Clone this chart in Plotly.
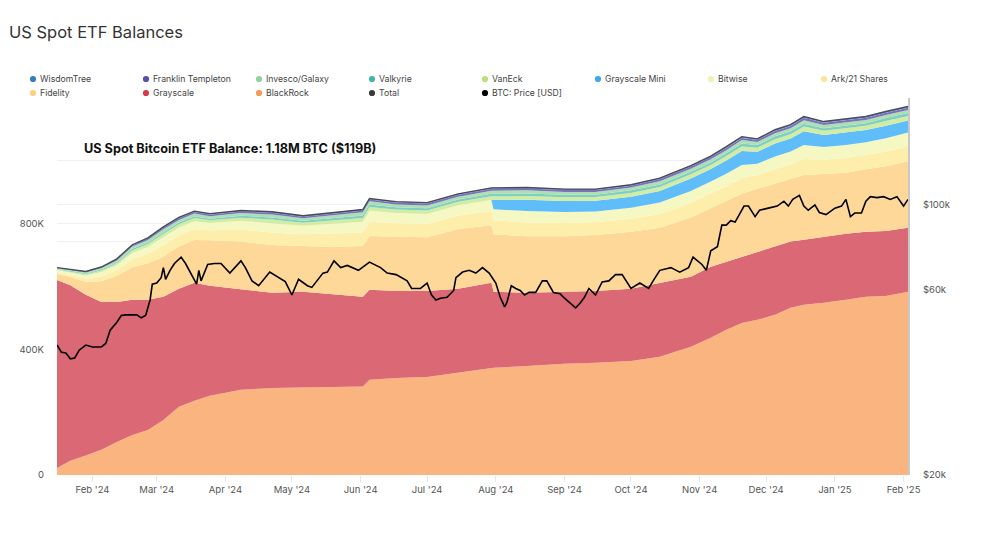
import plotly.graph_objects as go
import numpy as np

# ---------------- data (thousand BTC) ----------------
dates = ["2024-01-16","2024-01-22","2024-01-29","2024-02-05","2024-02-12","2024-02-19","2024-02-26",
         "2024-03-04","2024-03-11","2024-03-18","2024-03-25","2024-04-08","2024-04-22","2024-05-06",
         "2024-05-20","2024-06-02","2024-06-05","2024-06-17","2024-07-01","2024-07-15","2024-07-30",
         "2024-07-31","2024-08-15","2024-09-01","2024-09-15","2024-10-01","2024-10-14","2024-10-28",
         "2024-11-06","2024-11-13","2024-11-20","2024-11-27","2024-12-05","2024-12-12","2024-12-18",
         "2024-12-27","2025-01-06","2025-01-15","2025-01-24","2025-02-03"]

blackrock = [22,45,62,80,105,127,143,175,217,236,252,271,277,278,280,282,303,309,312,325,341,341,347,354,357,363,376,408,437,462,484,494,510,532,542,548,558,567,570,583]
grayscale = [599,559,512,471,446,431,415,392,376,376,350,319,303,305,294,285,287,277,274,268,271,242,233,229,229,230,236,223,226,217,211,217,217,211,207,210,210,207,207,204]
fidelity = [19,26,41,66,83,103,116,128,134,136,145,153,152,147,152,162,171,172,171,190,183,183,180,177,178,181,175,189,187,192,200,200,200,198,206,200,194,199,206,212]
ark21 = [6,7,10,16,19,26,30,36,36,35,32,38,40,36,42,43,45,43,42,43,45,45,44,42,41,42,44,46,46,48,50,44,47,48,51,46,47,46,47,48]
bitwise = [6,8,10,13,15,20,22,26,25,25,23,28,30,27,32,34,35,33,32,33,35,35,36,35,34,35,36,38,38,40,42,36,40,41,44,40,41,40,42,43]
grayscale_mini = [0,0,0,0,0,0,0,0,0,0,0,0,0,0,0,0,0,0,0,0,0,
                  29,36,35,34,35,37,40,40,42,44,38,41,41,44,38,40,39,40,38]
vaneck = [2,3,4,5,6,8,9,10,10,10,9,10,11,10,11,12,12,11,11,11,12,12,12,12,12,12,13,13,13,14,15,13,14,14,15,14,14,14,15,15]
valkyrie = [1,2,2,3,3,5,5,6,6,6,5,6,7,6,7,8,8,7,7,7,8,8,8,8,7,8,8,8,8,9,9,8,9,9,9,8,9,8,9,9]
invesco = [3,3,4,5,6,7,8,9,8,8,8,9,9,8,9,10,10,9,9,9,10,10,10,9,9,9,10,10,10,10,11,10,10,10,11,10,10,10,10,10]
franklin = [1,1,2,2,3,4,5,5,5,5,5,5,6,5,6,6,6,6,6,6,6,6,6,6,6,6,7,7,7,7,7,7,7,7,8,7,7,7,7,7]
wisdomtree = [1,1,1,1,2,2,2,3,3,3,3,3,3,3,3,3,3,3,3,3,3,3,3,3,3,3,3,3,3,4,4,3,4,4,4,4,4,4,4,4]

price_dates = ["2024-01-16","2024-01-18","2024-01-20","2024-01-22","2024-01-24","2024-01-26","2024-01-29",
    "2024-02-01","2024-02-05","2024-02-07","2024-02-09","2024-02-12","2024-02-14","2024-02-16","2024-02-21",
    "2024-02-23","2024-02-25","2024-02-27","2024-02-28","2024-03-01","2024-03-03","2024-03-04","2024-03-05",
    "2024-03-07","2024-03-09","2024-03-12","2024-03-14","2024-03-16","2024-03-19","2024-03-20","2024-03-21",
    "2024-03-24","2024-03-27","2024-03-30","2024-04-03","2024-04-08","2024-04-10","2024-04-13","2024-04-16",
    "2024-04-21","2024-04-28","2024-05-01","2024-05-04","2024-05-08","2024-05-10","2024-05-15","2024-05-17",
    "2024-05-20","2024-05-23","2024-05-26","2024-05-31","2024-06-05","2024-06-10","2024-06-13","2024-06-17",
    "2024-06-22","2024-06-24","2024-06-28","2024-07-01","2024-07-03","2024-07-05","2024-07-07","2024-07-10",
    "2024-07-13","2024-07-14","2024-07-17","2024-07-20","2024-07-23","2024-07-26","2024-07-29","2024-08-01",
    "2024-08-03","2024-08-05","2024-08-06","2024-08-08","2024-08-10","2024-08-12","2024-08-14","2024-08-16",
    "2024-08-19","2024-08-22","2024-08-24","2024-08-27","2024-08-30","2024-09-01","2024-09-06","2024-09-08",
    "2024-09-10","2024-09-12","2024-09-15","2024-09-18","2024-09-21","2024-09-24","2024-09-27","2024-10-01",
    "2024-10-05","2024-10-09","2024-10-11","2024-10-14","2024-10-19","2024-10-23","2024-10-27","2024-10-29",
    "2024-11-02","2024-11-04","2024-11-06","2024-11-09","2024-11-11","2024-11-13","2024-11-15","2024-11-17",
    "2024-11-21","2024-11-23","2024-11-26","2024-11-28","2024-12-02","2024-12-06","2024-12-09","2024-12-11",
    "2024-12-13","2024-12-16","2024-12-18","2024-12-20","2024-12-23","2024-12-25","2024-12-28","2025-01-01",
    "2025-01-04","2025-01-06","2025-01-08","2025-01-10","2025-01-13","2025-01-15","2025-01-17","2025-01-20",
    "2025-01-23","2025-01-26","2025-01-29","2025-02-01","2025-02-03"]
btc_price = [43300,41500,41300,39900,40100,42000,43300,
    42800,42800,43700,47300,49600,51600,51800,51800,
    50900,51600,56600,62200,62600,64600,68600,64000,
    67500,70300,73000,70300,66800,62200,67500,63400,
    69900,70300,70300,66400,71400,68600,63400,61600,
    66800,63100,58300,64000,61600,61000,66400,66800,
    71400,68600,69500,67500,70900,68600,66400,65800,
    63400,60600,60600,62600,58300,56600,57200,57500,
    59900,64600,66800,67500,66400,68600,66400,62600,
    57500,54300,55800,61600,60600,59900,58300,59200,
    59200,63400,63400,59200,58700,57200,54000,55500,
    57500,60600,58300,63000,63400,65800,65800,60600,
    62600,60600,63400,67500,68600,66800,68600,73000,
    69900,67500,75800,77700,88300,88300,90700,89900,
    98900,98900,92900,96500,97700,98900,101800,98900,
    102900,105400,98900,96500,99600,95200,94000,97700,
    98900,102900,92900,94900,94900,101800,104600,104000,
    104600,102900,104600,98900,102900]

legend_names = ["WisdomTree","Franklin Templeton","Invesco/Galaxy","Valkyrie","VanEck","Grayscale Mini",
                "Bitwise","Ark/21 Shares","Fidelity","Grayscale","BlackRock","Total","BTC: Price [USD]"]
legend_colors = ["#2f7fc1","#5b4ea8","#8fd49a","#3fb8a6","#b9e07a","#3aa9f0",
                 "#eef3b0","#fde49a","#fdd27f","#d63a4a","#f79a55","#3a3a3a","#000000"]

# stacking order bottom -> top
stack = [("BlackRock", blackrock, "#f9b47f"),
         ("Grayscale", grayscale, "#da6875"),
         ("Fidelity", fidelity, "#fdd898"),
         ("Ark/21 Shares", ark21, "#feeeac"),
         ("Bitwise", bitwise, "#f6f8c4"),
         ("Grayscale Mini", grayscale_mini, "#5fbdfa"),
         ("VanEck", vaneck, "#d2eca6"),
         ("Valkyrie", valkyrie, "#7fd0bf"),
         ("Invesco/Galaxy", invesco, "#acdfb3"),
         ("Franklin Templeton", franklin, "#7d72ba"),
         ("WisdomTree", wisdomtree, "#5c93cc")]

# ---------------- geometry (page has an 8px body margin) ----------------
OFF = 8
W, H = 976, 546
L, R, T, B = 49, 76, 90, 79
PW, PH = W - L - R, H - T - B


def px_x(sx):
    return (sx - OFF - L) / PW


def px_y(sy):
    return (H - B - (sy - OFF)) / PH


fig = go.Figure()
for name, vals, col in stack:
    fig.add_trace(go.Scatter(x=dates, y=np.array(vals) * 1000, name=name, stackgroup="one",
                             mode="lines", line=dict(width=0), fillcolor=col,
                             showlegend=False, hoverinfo="skip"))

total = np.sum([np.array(v) for _, v, _ in stack], axis=0) * 1000
fig.add_trace(go.Scatter(x=dates, y=total, name="Total", mode="lines",
                         line=dict(color="#4a4a58", width=1.4), showlegend=False))

fig.add_trace(go.Scatter(x=price_dates, y=btc_price, name="BTC: Price [USD]", mode="lines",
                         line=dict(color="#000000", width=1.6), yaxis="y2", showlegend=False))

# ---------------- manual legend (two rows, 8 columns) ----------------
shapes = []
annotations = []
for i, (n, c) in enumerate(zip(legend_names, legend_colors)):
    col, row = i % 8, i // 8
    cx = 33 + 113 * col
    cy = 79 + 14 * row
    r = 3.1
    shapes.append(dict(type="circle", xref="paper", yref="paper",
                       x0=px_x(cx - r), x1=px_x(cx + r), y0=px_y(cy + r), y1=px_y(cy - r),
                       fillcolor=c, line=dict(width=0)))
    annotations.append(dict(text=n, xref="paper", yref="paper", x=px_x(cx + 5), y=px_y(cy),
                            xanchor="left", yanchor="middle", showarrow=False,
                            font=dict(size=8.7, color="#444", family="Inter, sans-serif")))

annotations.append(dict(text="US Spot ETF Balances", xref="paper", yref="paper",
                        x=px_x(7), y=px_y(32), xanchor="left", yanchor="middle", showarrow=False,
                        font=dict(family="Inter, sans-serif", size=16.5, color="#333")))
annotations.append(dict(text="<b>US Spot Bitcoin ETF Balance: 1.18M BTC ($119B)</b>",
                        xref="paper", yref="paper", x=px_x(82), y=px_y(148),
                        xanchor="left", yanchor="middle", showarrow=False,
                        font=dict(size=12.7, color="#111", family="Inter, sans-serif")))

tick_font = dict(size=9.5, color="#555", family="Inter, sans-serif")

fig.update_layout(
    width=W, height=H,
    paper_bgcolor="white", plot_bgcolor="white",
    font=dict(family="Inter, Roboto, sans-serif", size=10, color="#555"),
    margin=dict(l=L, r=R, t=T, b=B, autoexpand=False),
    showlegend=False,
    xaxis=dict(type="date", range=["2024-01-16", "2025-02-03"], dtick="M1", tickformat="%b '%y",
               tick0="2024-02-01", showgrid=False, zeroline=False, ticks="outside",
               ticklen=6, tickcolor="#e8e8e8", tickfont=tick_font,
               showline=False, automargin=False),
    yaxis=dict(range=[0, 1200000], tickvals=[0, 400000, 800000], ticktext=["0", "400K", "800K"],
               showgrid=True, gridcolor="#f0f0f0", zeroline=False,
               minor=dict(dtick=200000, showgrid=True, gridcolor="#f0f0f0"),
               tickfont=tick_font, ticklabelstandoff=12, automargin=False),
    yaxis2=dict(type="log", overlaying="y", side="right",
                range=[np.log10(20000), np.log10(188000)],
                tickvals=[20000, 60000, 100000], ticktext=["$20k", "$60k", "$100k"],
                showgrid=True, gridcolor="#f0f0f0",
                minor=dict(tickvals=[80000], showgrid=True, gridcolor="#f0f0f0"),
                showline=True, linecolor="#c8c8c8", linewidth=2,
                tickfont=tick_font, ticklabelstandoff=11, automargin=False),
    shapes=shapes,
    annotations=annotations,
)

fig.write_html("out.html")
